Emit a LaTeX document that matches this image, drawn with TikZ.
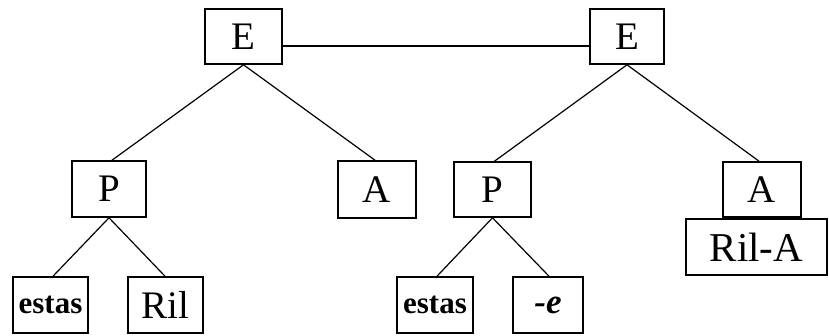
\documentclass[tikz,border=0pt]{standalone}
\usepackage{fontspec}
\setmainfont{Liberation Serif}
\begin{document}
\begin{tikzpicture}[x=1pt,y=-1pt,
  box/.style={draw,line width=1.6pt,rectangle,inner sep=0pt,minimum height=55pt,
    font=\fontsize{39}{39}\selectfont},
  smallbox/.style={box,font=\fontsize{31}{31}\selectfont\bfseries},
  edge/.style={line width=1.2pt}]
\useasboundingbox (0,0) rectangle (829,336);
\node[box,minimum width=77pt] (E1) at (243.5,36.5) {E};
\node[box,minimum width=74pt] (E2) at (627,36.5) {E};
\node[box,minimum width=74pt,minimum height=56pt] (P1) at (109,189) {P};
\node[box,minimum width=78pt,minimum height=57pt] (A1) at (377,189.5) {A};
\node[box,minimum width=77pt] (P2) at (492.5,189.5) {P};
\node[box,minimum width=78pt] (A2) at (762,189.5) {A};
\node[box,minimum width=141pt,minimum height=56pt,font=\fontsize{41}{41}\selectfont] (RA) at (756.5,247) {Ril-A};
\node[smallbox,minimum width=75pt,minimum height=56pt] (S1) at (50.5,305) {estas};
\node[box,minimum width=75pt,minimum height=56pt] (R1) at (165.5,305) {Ril};
\node[smallbox,minimum width=76pt,minimum height=56pt] (S2) at (435,305) {estas};
\node[box,minimum width=70pt,minimum height=56pt,font=\fontsize{35}{35}\selectfont\bfseries\itshape] (NE) at (548,305) {-e};
\draw[edge] ([yshift=-9.5pt]E1.east) -- ([yshift=-9.5pt]E2.west);
\draw[edge] (E1.south) -- ([xshift=3pt]P1.north);
\draw[edge] (E1.south) -- ([xshift=-2pt]A1.north);
\draw[edge] (E2.south) -- ([xshift=2pt]P2.north);
\draw[edge] (E2.south) -- ([xshift=-3pt]A2.north);
\draw[edge] (P1.south) -- ([xshift=2.5pt]S1.north);
\draw[edge] (P1.south) -- ([xshift=-0.5pt]R1.north);
\draw[edge] (P2.south) -- ([xshift=2pt]S2.north);
\draw[edge] (P2.south) -- ([xshift=1pt]NE.north);
\end{tikzpicture}
\end{document}
